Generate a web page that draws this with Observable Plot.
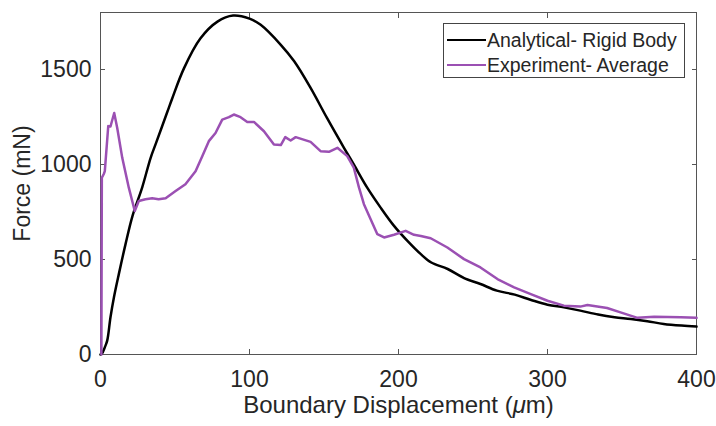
<!DOCTYPE html>
<html><head><meta charset="utf-8">
<script src="https://cdn.jsdelivr.net/npm/d3@7"></script>
<script src="https://cdn.jsdelivr.net/npm/@observablehq/plot@0.6"></script>
<style>
body{margin:0;background:#fff;}
#wrap{position:relative;width:716px;height:426px;font-family:"Liberation Sans",Arial,sans-serif;color:#262626;}
.legend{position:absolute;left:443px;top:23px;width:242px;height:55px;border:1px solid #444;background:#fff;box-sizing:border-box;}
.row{position:absolute;left:3px;height:20px;display:flex;align-items:center;font-size:19.5px;white-space:nowrap;}
.sw{width:39px;height:0;border-top:2.5px solid;margin-right:1px;}
</style></head>
<body>
<div id="wrap"></div>
<script>
// Analytical - Rigid Body (black)
const analyticalX = [0, 1, 3, 4.5, 6.7, 9, 12.3, 16.8, 21.5, 28, 33.6, 37, 45, 48, 56, 67, 78.5, 89, 100, 107.5, 121, 130, 141, 152, 163.4, 170, 179, 188, 197, 206, 215, 222, 233, 244, 255, 266, 278, 289, 300, 311, 322, 334, 345, 356, 367, 378, 390, 400];
const analyticalY = [0, 5, 40, 73, 196, 300, 423, 581, 730, 880, 1034, 1107, 1280, 1345, 1506, 1663, 1752, 1784, 1768, 1735, 1630, 1543, 1403, 1245, 1088, 1000, 878, 773, 677, 598, 528, 484, 450, 402, 371, 336, 315, 287, 262, 248, 231, 210, 196, 187, 175, 161, 152, 147];
// Experiment - Average (purple)
const experimentX = [0.6, 0.9, 2.2, 2.9, 5.2, 6.7, 9.2, 11.2, 14.6, 19, 23, 25.7, 30.2, 34.7, 39, 43.7, 50.4, 57, 63.8, 68.3, 72.7, 77.2, 81.7, 86.2, 89.5, 94, 98.5, 103, 109.7, 116.4, 121, 124, 127.6, 131, 141, 147.7, 153.3, 159, 165.6, 170, 173.5, 176.8, 181.3, 185.8, 190.3, 197, 204.8, 210.4, 215, 221.6, 232.8, 244, 255, 266.4, 277.6, 288.8, 300, 311, 322, 326.8, 340, 349, 360.4, 371.6, 389.5, 400];
const experimentY = [0, 930, 950, 965, 1202, 1200, 1271, 1193, 1035, 878, 755, 808, 817, 822, 817, 822, 860, 896, 965, 1044, 1123, 1166, 1236, 1249, 1263, 1249, 1224, 1224, 1175, 1105, 1102, 1144, 1126, 1144, 1119, 1070, 1067, 1088, 1044, 983, 878, 791, 712, 633, 616, 630, 651, 630, 624, 612, 563, 502, 458, 397, 353, 318, 283, 257, 252, 261, 245, 222, 193, 199, 196, 193];
const xTicks = [0, 100, 200, 300, 400];
const yTicks = [0, 500, 1000, 1500];
const seriesNames = ["Analytical- Rigid Body", "Experiment- Average"];
const seriesColors = ["#000000", "#9b50b3"];

const analytical = analyticalX.map((x, i) => ({x, y: analyticalY[i]}));
const experiment = experimentX.map((x, i) => ({x, y: experimentY[i]}));

const axisColor = "#555";
const chart = Plot.plot({
  width: 716, height: 426,
  marginLeft: 100, marginRight: 20, marginTop: 12, marginBottom: 72,
  style: {fontFamily: "'Liberation Sans', Arial, sans-serif", fontSize: "23px", color: "#262626", background: "#fff", overflow: "visible"},
  x: {domain: [0, 400]},
  y: {domain: [0, 1800]},
  marks: [
    Plot.frame({stroke: axisColor, strokeWidth: 1}),
    Plot.axisX(xTicks, {anchor: "bottom", tickSize: -5, tickPadding: 21, stroke: axisColor, tickFormat: "d", fill: "#262626", label: null}),
    Plot.axisX({anchor: "bottom", ticks: [], label: "Boundary Displacement (μm)", labelAnchor: "center", labelArrow: "none", labelOffset: 58, fontSize: 24, fill: "#262626"}),
    Plot.axisX(xTicks, {anchor: "top", tickSize: -5, stroke: axisColor, tickFormat: () => "", label: null}),
    Plot.axisY(yTicks, {anchor: "left", tickSize: -5, tickPadding: 14, stroke: axisColor, tickFormat: "d", label: "Force (mN)", labelAnchor: "center", labelArrow: "none", labelOffset: 87, fill: "#262626"}),
    Plot.axisY(yTicks, {anchor: "right", tickSize: -5, stroke: axisColor, tickFormat: () => "", label: null}),
    Plot.line(analytical, {x: "x", y: "y", stroke: seriesColors[0], strokeWidth: 2.5, curve: "catmull-rom"}),
    Plot.line(experiment, {x: "x", y: "y", stroke: seriesColors[1], strokeWidth: 2.5})
  ]
});
// italic mu
chart.querySelectorAll("text").forEach(t => {
  if (t.textContent.includes("μ") && t.children.length === 0) {
    const s = t.textContent; const i = s.indexOf("μ");
    t.textContent = "";
    const a = document.createElementNS("http://www.w3.org/2000/svg", "tspan"); a.textContent = s.slice(0, i);
    const b = document.createElementNS("http://www.w3.org/2000/svg", "tspan"); b.textContent = "μ"; b.setAttribute("font-style", "italic");
    const c = document.createElementNS("http://www.w3.org/2000/svg", "tspan"); c.textContent = s.slice(i + 1);
    t.append(a, b, c);
  }
});
const wrap = document.getElementById("wrap");
wrap.appendChild(chart);
const lg = document.createElement("div"); lg.className = "legend";
seriesNames.forEach((n, i) => {
  const r = document.createElement("div"); r.className = "row"; r.style.top = (i === 0 ? 6 : 31) + "px";
  const sw = document.createElement("span"); sw.className = "sw"; sw.style.borderTopColor = seriesColors[i];
  const tx = document.createElement("span"); tx.textContent = n;
  r.append(sw, tx); lg.appendChild(r);
});
wrap.appendChild(lg);
</script>
</body></html>
